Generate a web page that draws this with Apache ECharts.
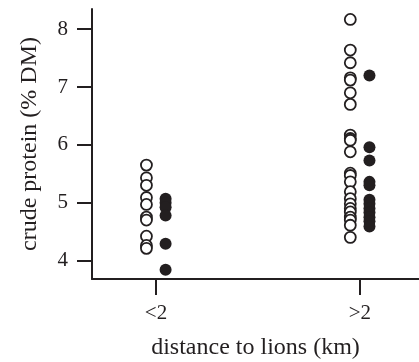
<!DOCTYPE html>
<html>
<head>
<meta charset="utf-8">
<script src="https://cdn.jsdelivr.net/npm/echarts@6/dist/echarts.min.js"></script>
<style>
html,body{margin:0;padding:0;background:#fff;}
#chart{width:419px;height:362px;}
</style>
</head>
<body>
<div id="chart"></div>
<script>
// Data
var categories = ["<2", ">2"];
var yTicks = [4, 5, 6, 7, 8];
// open circles
var openNear = [5.65, 5.43, 5.30, 5.09, 4.97, 4.75, 4.70, 4.42, 4.26, 4.21];
var openFar = [8.17, 7.64, 7.42, 7.16, 7.12, 6.90, 6.70, 6.17, 6.11, 6.08, 5.88, 5.51, 5.47, 5.36, 5.19, 5.07, 4.98, 4.90, 4.84, 4.75, 4.70, 4.61, 4.40];
// filled circles
var filledNear = [5.07, 5.00, 4.92, 4.78, 4.29, 3.84];
var filledFar = [7.20, 5.96, 5.73, 5.36, 5.30, 5.05, 4.98, 4.90, 4.83, 4.75, 4.68, 4.59];

var OFFSET = 0.047;
function pts(vals, catIdx, off) {
  return vals.map(function (v) { return [catIdx + 1 + off, v]; });
}
var openData = pts(openNear, 0, -OFFSET).concat(pts(openFar, 1, -OFFSET));
var filledData = pts(filledNear, 0, OFFSET).concat(pts(filledFar, 1, OFFSET));

var font = "'Liberation Serif', 'Times New Roman', serif";
var ink = '#231f20';

// main axis extents
var X_MIN = 0.686, X_MAX = 2.29, Y_MIN = 3.68, Y_MAX = 8.35;
var G = {left: 92, top: 9, right: 0, bottom: 83};
var W = 419, H = 362;
var plotW = W - G.left - G.right, plotH = H - G.top - G.bottom;
function xPix(v) { return G.left + (v - X_MIN) / (X_MAX - X_MIN) * plotW; }
function yPix(v) { return G.top + (Y_MAX - v) / (Y_MAX - Y_MIN) * plotH; }
var tickYmin = yTicks[0], tickYmax = yTicks[yTicks.length - 1];

var chart = echarts.init(document.getElementById('chart'), null, {renderer: 'canvas'});
var hidden = {show: false};
chart.setOption({
  animation: false,
  backgroundColor: '#fff',
  grid: [
    {left: G.left, top: G.top, right: G.right, bottom: G.bottom, containLabel: false, outerBoundsMode: 'none'},
    // grid carrying the y ticks (spans tick range 4..8 of main scale)
    {left: G.left, right: G.right, top: yPix(tickYmax), bottom: H - yPix(tickYmin), containLabel: false, outerBoundsMode: 'none'},
    // grid carrying the x ticks (spans category 1..2 of main scale)
    {left: xPix(1), right: W - xPix(2), top: G.top, bottom: G.bottom, containLabel: false, outerBoundsMode: 'none'}
  ],
  xAxis: [
    {
      gridIndex: 0, type: 'value', min: X_MIN, max: X_MAX,
      splitLine: hidden, axisTick: hidden, axisLabel: hidden,
      axisLine: {show: true, lineStyle: {color: ink, width: 2}},
      name: 'distance to lions (km)', nameLocation: 'middle', nameGap: 57,
      nameTextStyle: {fontFamily: font, fontSize: 24, color: ink}
    },
    {gridIndex: 1, type: 'value', min: 0, max: 1, show: false},
    {
      gridIndex: 2, type: 'value', min: 1, max: categories.length, interval: 1,
      splitLine: hidden, axisLine: hidden,
      axisTick: {show: true, length: 16, lineStyle: {color: ink, width: 2}},
      axisLabel: {
        formatter: function (v) { return categories[Math.round(v) - 1]; },
        fontFamily: font, fontSize: 21, color: ink, margin: 24
      }
    }
  ],
  yAxis: [
    {
      gridIndex: 0, type: 'value', min: Y_MIN, max: Y_MAX,
      splitLine: hidden, axisTick: hidden, axisLabel: hidden,
      axisLine: {show: true, lineStyle: {color: ink, width: 2}},
      name: 'crude protein (% DM)', nameLocation: 'middle', nameGap: 50,
      nameTextStyle: {fontFamily: font, fontSize: 24, color: ink}
    },
    {
      gridIndex: 1, type: 'value', min: tickYmin, max: tickYmax, interval: 1,
      splitLine: hidden, axisLine: hidden,
      axisTick: {show: true, length: 15, lineStyle: {color: ink, width: 2}},
      axisLabel: {fontFamily: font, fontSize: 21, color: ink, margin: 24}
    },
    {gridIndex: 2, type: 'value', min: 0, max: 1, show: false}
  ],
  series: [
    {
      type: 'scatter', xAxisIndex: 0, yAxisIndex: 0,
      data: openData,
      symbol: 'circle',
      symbolSize: 11,
      itemStyle: {color: '#fff', borderColor: ink, borderWidth: 1.8, opacity: 1}
    },
    {
      type: 'scatter', xAxisIndex: 0, yAxisIndex: 0,
      data: filledData,
      symbol: 'circle',
      symbolSize: 12,
      itemStyle: {color: ink, borderColor: ink, borderWidth: 0, opacity: 1}
    }
  ]
});
</script>
</body>
</html>
